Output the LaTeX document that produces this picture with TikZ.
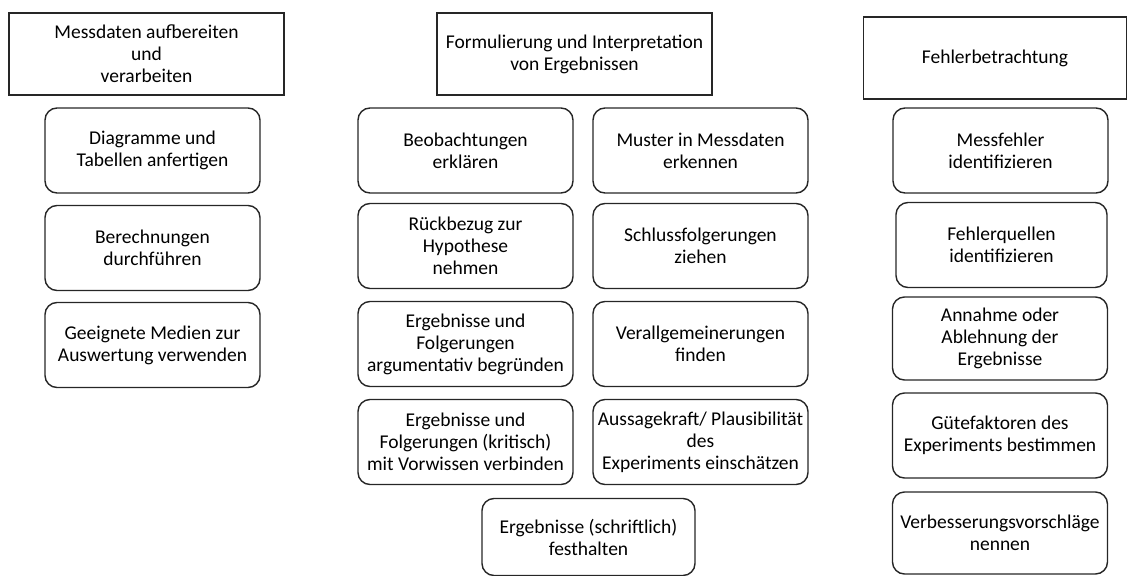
\documentclass[tikz,border=0pt]{standalone}
\usepackage{fontspec}
\setmainfont{Carlito}
\usepackage{tikz}

\begin{document}
\begin{tikzpicture}[
  x=1pt, y=-1pt,
  header/.style={draw=black!85, line width=1.4pt, rectangle, align=center,
                 font=\fontsize{19.5}{22}\selectfont, inner sep=0pt},
  item/.style={draw=black!85, line width=1.4pt, rounded corners=12pt, align=center,
               minimum width=215pt, minimum height=85pt,
               font=\fontsize{19.5}{22}\selectfont, inner sep=0pt},
]
\useasboundingbox (0,0) rectangle (1128,576);

% Column headers
\node[header, minimum width=275pt, minimum height=82pt] (hleft)  at (146.5, 54)
  {Messdaten aufbereiten\\und\\verarbeiten};
\node[header, minimum width=275pt, minimum height=82pt] (hmid)   at (574.5, 54)
  {Formulierung und Interpretation\\von Ergebnissen};
\node[header, minimum width=263pt, minimum height=82pt] (hright) at (995, 58)
  {Fehlerbetrachtung};

% ─── Left column ──────────────────────────────────────────────────────────
\node[item] (diagramme)  at (152.5, 150.5) {Diagramme und\\Tabellen anfertigen};
\node[item] (berechnung) at (152.5, 248)   {Berechnungen\\durchführen};
\node[item] (medien)     at (152.5, 345)   {Geeignete Medien zur\\Auswertung verwenden};

% ─── Middle column ────────────────────────────────────────────────────────
\node[item] (beobachtung) at (465.5, 150.5) {Beobachtungen\\erklären};
\node[item] (muster)      at (700.5, 150.5) {Muster in Messdaten\\erkennen};
\node[item] (hypothese)   at (465.5, 246)   {Rückbezug zur\\Hypothese\\nehmen};
\node[item] (schluss)     at (700.5, 246)   {Schlussfolgerungen\\ziehen};
\node[item] (begruenden)  at (465.5, 344)   {Ergebnisse und\\Folgerungen\\argumentativ begründen};
\node[item] (verallg)     at (700.5, 344)   {Verallgemeinerungen\\finden};
\node[item] (vorwissen)   at (465.5, 442)   {Ergebnisse und\\Folgerungen (kritisch)\\mit Vorwissen verbinden};
\node[item] (aussage)     at (700.5, 442)   {Aussagekraft/ Plausibilität\\des\\Experiments einschätzen};
\node[item, minimum width=213pt, minimum height=77pt] (festhalten) at (588.5, 537)
  {Ergebnisse (schriftlich)\\festhalten};

% ─── Right column ─────────────────────────────────────────────────────────
\node[item] (messfehler)  at (1000.5, 150.5) {Messfehler\\identifizieren};
\node[item, minimum width=211pt] (quellen) at (1001.5, 245) {Fehlerquellen\\identifizieren};
\node[item, minimum height=83pt] (annahme) at (1000, 338.5) {Annahme oder\\Ablehnung der\\Ergebnisse};
\node[item] (guete)       at (1000, 435.5) {Gütefaktoren des\\Experiments bestimmen};
\node[item, minimum height=82pt] (verbesserung) at (1000, 533) {Verbesserungsvorschläge\\nennen};

\end{tikzpicture}
\end{document}
